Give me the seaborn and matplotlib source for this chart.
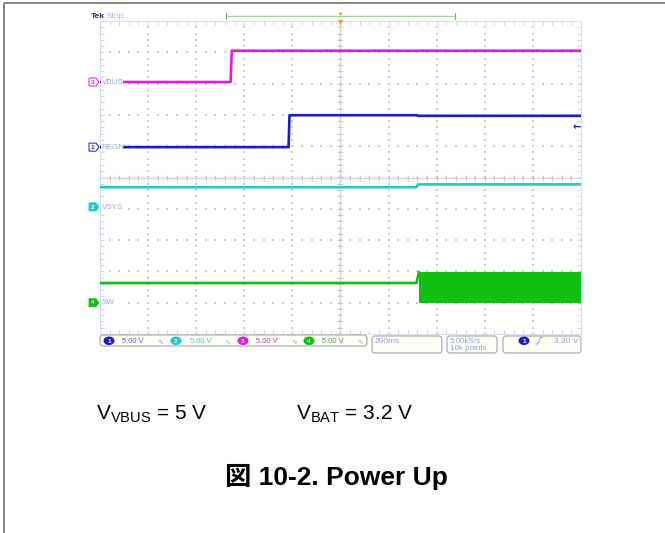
import numpy as np
import pandas as pd
import matplotlib
matplotlib.use("Agg")
import matplotlib.pyplot as plt
import seaborn as sns
from matplotlib.patches import FancyBboxPatch, Ellipse, Polygon

# ---- scope settings -------------------------------------------------------
SEC_PER_DIV = 0.2          # 200 ms/div
VOLT_PER_DIV = 5.0         # 5.00 V/div on every channel
H_DIVS, V_DIVS = 10, 10

channels = ["VBUS", "REGN", "VSYS", "SW"]
channel_numbers = [3, 1, 2, 4]
channel_colors = ["#dc1edc", "#1c1cc8", "#1ccaca", "#12bf12"]
ground_div = [3.05, 0.97, -0.94, -4.0]      # channel ground markers (divisions)

# ---- captured traces: breakpoints (seconds, volts) -------------------------
vbus_t = [-1.0, -0.457, -0.452, 1.0]
vbus_v = [0.0, 0.0, 5.0, 5.0]

regn_t = [-1.0, -0.216, -0.212, 0.318, 0.322, 1.0]
regn_v = [0.0, 0.0, 5.1, 5.1, 5.0, 5.0]

vsys_t = [-1.0, 0.316, 0.322, 1.0]
vsys_v = [3.15, 3.15, 3.6, 3.6]

sw_t = [-1.0, 0.316, 0.326]
sw_v = [3.15, 3.15, 4.9]

# converter switching burst on SW
sw_burst_t = [0.326, 1.0]
sw_burst_low = [0.0, 0.0]
sw_burst_high = [4.9, 4.9]

trigger_channel = 1
trigger_level = 3.20

channel_scale_labels = ["5.00 V", "5.00 V", "5.00 V", "5.00 V"]
timebase_label = "200ms"
sample_rate_label = "5.00kS/s"
record_label = "10k points"
trigger_label = "3.20 V"

cond_vbus = "V$_{\\mathregular{VBUS}}$ = 5 V"
cond_bat = "V$_{\\mathregular{BAT}}$ = 3.2 V"
caption = "図 10-2. Power Up"

# ---- styling ---------------------------------------------------------------
sns.set_theme(style="white")
plt.rcParams["font.family"] = ["Liberation Sans", "DejaVu Sans"]
plt.rcParams["mathtext.fontset"] = "custom"
plt.rcParams["mathtext.rm"] = "Liberation Sans"

W, H = 665, 533
fig = plt.figure(figsize=(W / 100, H / 100), dpi=100)
fig.patch.set_facecolor("white")

# graticule area
gx0, gy0, gx1, gy1 = 100, 21, 581, 334
ax = fig.add_axes([gx0 / W, 1 - gy1 / H, (gx1 - gx0) / W, (gy1 - gy0) / H])
ax.set_facecolor("white")
half_t = SEC_PER_DIV * H_DIVS / 2
ax.set_xlim(-half_t, half_t)
ax.set_ylim(-V_DIVS / 2, V_DIVS / 2)

# dotted graticule: dots every 1/5 division along each major line
xmaj = np.arange(-half_t, half_t + 1e-9, SEC_PER_DIV)
ymaj = np.arange(-V_DIVS / 2, V_DIVS / 2 + 1e-9, 1.0)
xmin = np.arange(-half_t, half_t + 1e-9, SEC_PER_DIV / 5)
ymin = np.arange(-V_DIVS / 2, V_DIVS / 2 + 1e-9, 0.2)
gxa, gya = np.meshgrid(xmaj[1:-1], ymin)
gxb, gyb = np.meshgrid(xmin, ymaj[1:-1])
ax.scatter(np.r_[gxa.ravel(), gxb.ravel()], np.r_[gya.ravel(), gyb.ravel()],
           s=0.55, marker="s", color="#cdcdcd", linewidths=0, zorder=1)

# centre cross with sub-division ticks
ax.axhline(0, color="#d6d6d6", lw=1.0, zorder=1)
ax.axvline(0, color="#d6d6d6", lw=1.0, zorder=1)
ax.scatter(xmin, np.zeros_like(xmin), marker="|", s=14, color="#c4c4c4",
           linewidths=0.6, zorder=1)
ax.scatter(np.zeros_like(ymin), ymin, marker="_", s=14, color="#c4c4c4",
           linewidths=0.6, zorder=1)

ax.set_xticks(xmaj)
ax.set_xticks(xmin, minor=True)
ax.set_yticks(ymaj)
ax.set_yticks(ymin, minor=True)
ax.tick_params(which="both", direction="in", top=True, right=True, bottom=True,
               left=True, length=3, width=0.6, color="#c8cedc",
               labelbottom=False, labelleft=False)
for sp in ax.spines.values():
    sp.set_color("#d6deec")
    sp.set_linewidth(0.8)
ax.grid(False)

# traces, in division units
def to_div(volts, ch):
    return [ground_div[ch] + v / VOLT_PER_DIV for v in volts]

frames = []
for ch, (tt, vv) in enumerate([(vbus_t, vbus_v), (regn_t, regn_v),
                               (vsys_t, vsys_v), (sw_t, sw_v)]):
    frames.append(pd.DataFrame({"t": tt, "div": to_div(vv, ch),
                                "channel": channels[ch]}))
traces = pd.concat(frames, ignore_index=True)
sns.lineplot(data=traces, x="t", y="div", hue="channel",
             palette=dict(zip(channels, channel_colors)), estimator=None,
             sort=False, legend=False, lw=1.9, ax=ax, zorder=3)
ax.fill_between(sw_burst_t, to_div(sw_burst_low, 3), to_div(sw_burst_high, 3),
                color="#10c010", lw=0, zorder=3)
ax.set_xlabel("")
ax.set_ylabel("")

# trigger level indicator on the right edge
trig_idx = channel_numbers.index(trigger_channel)
trig_div = ground_div[trig_idx] + trigger_level / VOLT_PER_DIV
ax.text(half_t * 0.999, trig_div, "←", ha="right", va="center", fontsize=7,
        color=channel_colors[trig_idx], family="DejaVu Sans", fontweight="bold",
        zorder=4)

# ---- overlay in pixel coordinates -----------------------------------------
ov = fig.add_axes([0, 0, 1, 1], zorder=5)
ov.set_xlim(0, W)
ov.set_ylim(H, 0)
ov.axis("off")
ov.patch.set_alpha(0)

def data_to_px(x, y):
    dx, dy = ax.transData.transform((x, y))
    return dx, H - dy

# page frame
ov.plot([4, 4], [3, H], color="#7c7c7c", lw=1.3, solid_capstyle="butt")
ov.plot([4, W], [3, 3], color="#7c7c7c", lw=1.3, solid_capstyle="butt")

# top status line
ov.text(91, 16.5, "Tek", fontsize=6, fontweight="bold", color="#4b1f7f",
        va="center", ha="left")
ov.text(107, 16.5, "Stop", fontsize=6, color="#a6b3e2", va="center", ha="left")
ov.plot([226, 455], [16, 16], color="#a6d8a6", lw=1.0)
ov.plot([226, 226], [13, 19], color="#9a9a9a", lw=0.8)
ov.plot([455, 455], [13, 19], color="#9a9a9a", lw=0.8)
tx, _ = data_to_px(0, 0)
ov.scatter([tx], [14], marker="v", s=8, color="#f0a020", linewidths=0)
ov.scatter([tx], [22], marker="v", s=14, color="#f0a020", linewidths=0)

# channel ground markers with names
filled = {3: False, 1: False, 2: True, 4: True}
for ch, name in enumerate(channels):
    _, cy = data_to_px(-half_t, ground_div[ch])
    num = channel_numbers[ch]
    col = channel_colors[ch]
    ov.add_patch(FancyBboxPatch((100.5, cy - 4.5), 22, 9,
                                boxstyle="square,pad=0", fc="white", ec="none",
                                zorder=6))
    pts = [(89, cy - 4), (96, cy - 4), (99, cy), (96, cy + 4), (89, cy + 4)]
    if filled[num]:
        ov.add_patch(Polygon(pts, closed=True, fc=col, ec=col, lw=0.6, zorder=7))
        ncol = "white"
    else:
        ov.add_patch(Polygon(pts, closed=True, fc="white", ec=col, lw=0.7,
                             zorder=7))
        ncol = col
    ov.text(92.8, cy + 0.3, str(num), fontsize=4.6, color=ncol, ha="center",
            va="center", fontweight="bold", zorder=8)
    ov.text(101.5, cy + 0.3, name, fontsize=5.8, color="#9aa6d6", ha="left",
            va="center", zorder=8)

# bottom readout boxes
def box(x, y, w, h):
    ov.add_patch(FancyBboxPatch((x, y), w, h,
                                boxstyle="round,pad=0,rounding_size=3",
                                fc="#fefdf6", ec="#a8a8a8", lw=0.8, zorder=6))

box(100, 335, 267, 11)
box(372, 336, 70, 17)
box(447, 336, 50, 17)
box(503, 336, 78, 17)

text_blue = "#8ea2d8"
scale_text_colors = ["#5c5ce0", "#3cc8d0", "#b83cb8", "#30b030"]
row_y = 340.8
slot_x = [109, 176, 243, 309]
order = [1, 2, 3, 4]
for i, num in enumerate(order):
    ch = channel_numbers.index(num)
    cx = slot_x[i]
    ov.add_patch(Ellipse((cx, row_y), 11, 8.5, fc=channel_colors[ch],
                         ec="none", zorder=7))
    ov.text(cx, row_y + 0.3, str(num), fontsize=4.6, color="white",
            ha="center", va="center", fontweight="bold", zorder=8)
    ov.text(cx + 13.5, row_y + 0.3, channel_scale_labels[i], fontsize=5.4,
            color=scale_text_colors[i], ha="left", va="center", zorder=8)
    ov.text(cx + 51.5, row_y + 0.3, "∿", fontsize=5, color=text_blue,
            family="DejaVu Sans", ha="center", va="center", zorder=8)

ov.text(375, row_y + 0.3, timebase_label, fontsize=6, color=text_blue,
        ha="left", va="center", zorder=8)
ov.text(449.5, row_y + 0.3, sample_rate_label, fontsize=5.8, color=text_blue,
        ha="left", va="center", zorder=8)
ov.text(449.5, row_y + 7.8, record_label, fontsize=5.8, color=text_blue,
        ha="left", va="center", zorder=8)
ov.add_patch(Ellipse((524, row_y), 11, 8.5, fc=channel_colors[trig_idx],
                     ec="none", zorder=7))
ov.text(524, row_y + 0.3, str(trigger_channel), fontsize=4.6, color="white",
        ha="center", va="center", fontweight="bold", zorder=8)
ov.plot([535.5, 537.5, 540.5, 542.5], [344, 344, 337.5, 337.5],
        color=text_blue, lw=0.7, zorder=8)
ov.text(578.5, row_y + 0.3, trigger_label, fontsize=6, color=text_blue,
        ha="right", va="center", zorder=8)

# test conditions and caption
ov.text(96, 419, cond_vbus, fontsize=15, color="black", ha="left",
        va="baseline")
ov.text(296, 419, cond_bat, fontsize=15, color="black", ha="left",
        va="baseline")
ov.text(225, 485, caption, fontsize=19, fontweight="bold", color="black",
        ha="left", va="baseline",
        family=["Liberation Sans", "Noto Sans CJK JP", "DejaVu Sans"])

fig.savefig("out.png", dpi=100, facecolor="white")
